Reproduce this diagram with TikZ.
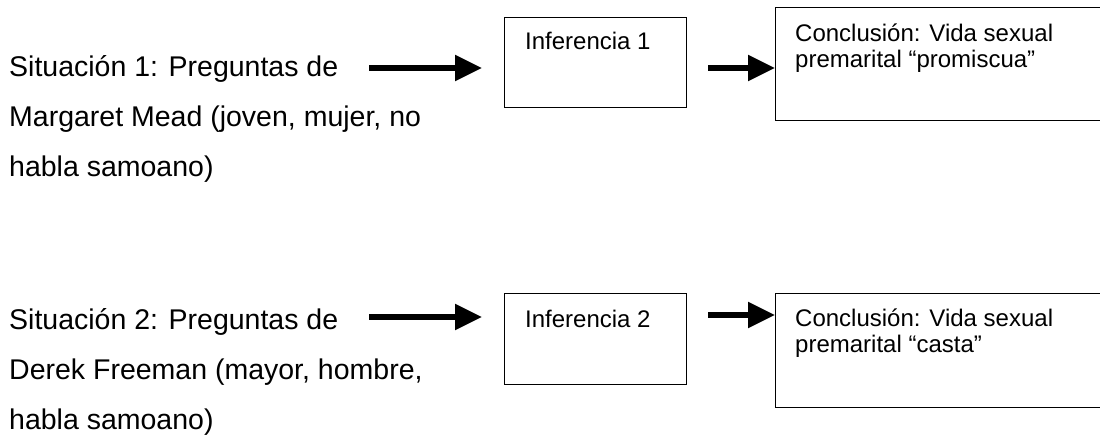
\documentclass[tikz,border=0pt]{standalone}
\usepackage{fontspec}
\setmainfont{Liberation Sans}
\usetikzlibrary{arrows.meta}
\tikzset{
  box/.style={draw, line width=1.3pt, rectangle, inner sep=0pt, anchor=north west},
  bigtxt/.style={anchor=base west, inner sep=0pt, font=\fontsize{28.5}{50}\selectfont},
  smalltxt/.style={anchor=base west, inner sep=0pt, font=\fontsize{24}{26}\selectfont},
  bigarrow/.style={line width=5.5pt, -{Triangle[length=27pt,width=25pt]}},
}
\begin{document}
\begin{tikzpicture}[x=1pt,y=-1pt]
\useasboundingbox (0,0) rectangle (1100,434);
\clip (0,0) rectangle (1100,434);
% left texts
\node[bigtxt] (s1) at (9,76) {\begin{tabular}[t]{@{}l@{}}Situación 1: Preguntas de\\Margaret Mead (joven, mujer, no\\habla samoano)\end{tabular}};
\node[bigtxt] (s2) at (9,329) {\begin{tabular}[t]{@{}l@{}}Situación 2: Preguntas de\\Derek Freeman (mayor, hombre,\\habla samoano)\end{tabular}};
% inference boxes
\node[box, minimum width=182pt, minimum height=90pt] (inf1) at (504,17) {};
\node[box, minimum width=182pt, minimum height=91pt] (inf2) at (504,293) {};
\node[smalltxt] (inf1t) at (525,49) {Inferencia 1};
\node[smalltxt] (inf2t) at (525,327) {Inferencia 2};
% conclusion boxes
\node[box, minimum width=340pt, minimum height=113pt] (con1) at (775,7) {};
\node[box, minimum width=340pt, minimum height=114pt] (con2) at (775,293) {};
\node[smalltxt] (con1t) at (795,41) {\begin{tabular}[t]{@{}l@{}}Conclusión: Vida sexual\\premarital “promiscua”\end{tabular}};
\node[smalltxt] (con2t) at (795,326) {\begin{tabular}[t]{@{}l@{}}Conclusión: Vida sexual\\premarital “casta”\end{tabular}};
% arrow start points
\coordinate (a1) at (369,68);
\coordinate (a2) at (369,317);
\coordinate (b1) at (708,68);
\coordinate (b2) at (708,315);
\draw[bigarrow, shorten >=22pt] (a1) -- (a1 -| inf1.west);
\draw[bigarrow, shorten >=22pt] (a2) -- (a2 -| inf2.west);
\draw[bigarrow] (b1) -- (b1 -| con1.west);
\draw[bigarrow] (b2) -- (b2 -| con2.west);
\end{tikzpicture}
\end{document}
